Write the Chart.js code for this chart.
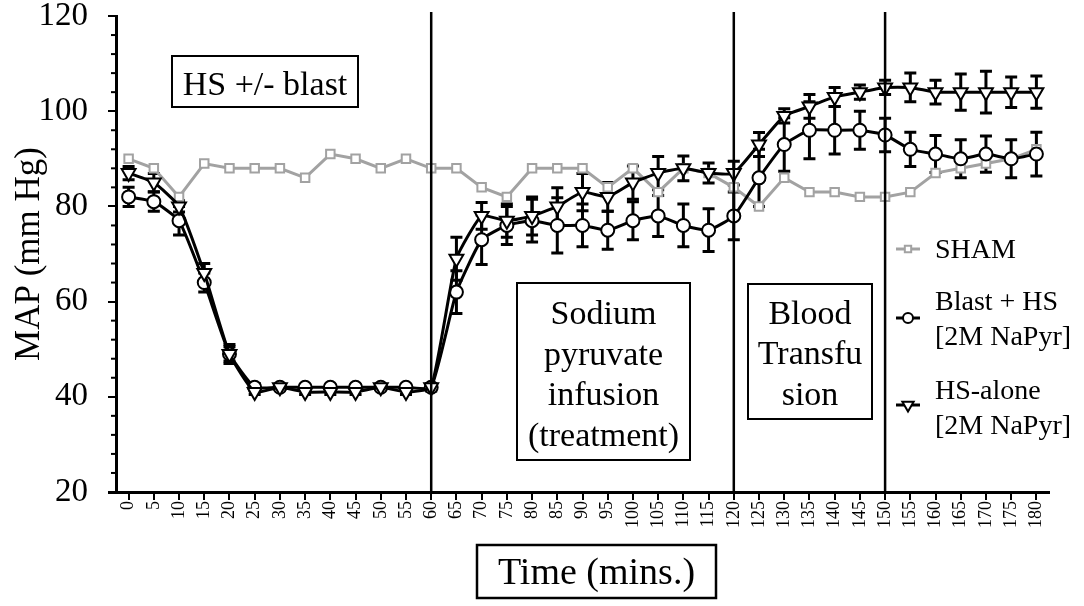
<!DOCTYPE html>
<html>
<head>
<meta charset="utf-8">
<script src="https://cdn.jsdelivr.net/npm/chart.js@4.4.1/dist/chart.umd.min.js"></script>
<style>
html,body{margin:0;padding:0;background:#fff;}
#wrap{width:1084px;height:606px;position:relative;}
</style>
</head>
<body>
<div id="wrap"><canvas id="c" width="1084" height="606"></canvas></div>
<script>
// ---- data ----
const timeLabels = ['0','5','10','15','20','25','30','35','40','45','50','55','60','65','70','75','80','85','90','95','100','105','110','115','120','125','130','135','140','145','150','155','160','165','170','175','180'];
const shamMAP    = [90,88,82,89,88,88,88,86,91,90,88,90,88, 88,84,82,88,88,88,84,88,83,88,87,84, 80,86,83,83,82,82,83,87,88,89,90,92];
const blastMAP   = [82,81,77,64,49,42,42,42,42,42,42,42,42, 62,73,76,77,76,76,75,77,78,76,75,78, 86,93,96,96,96,95,92,91,90,91,90,91];
const blastSEM   = [2,2,3,2,2,0.8,0.5,0.5,0.5,0.5,0.5,0.5,0.8, 4.5,5.2,4,4.5,5.8,4.5,4,4,4.3,4.5,4.5,5, 6,5.6,6,5,4,3.5,3.6,3.9,4,3.8,4,4.6];
const hsAloneMAP = [87,85,80,66,49,41,42,41,41,41,42,41,42, 69,78,77,78,80,83,82,85,87,88,87,87, 93,99,101,103,104,105,105,104,104,104,104,104];
const hsAloneSEM = [1.4,1.9,1.2,2,1.5,0.5,0.5,0.5,0.5,0.5,0.5,0.5,0.5, 4.5,2.8,3.5,4,3.9,3.9,3,3.5,3.5,2.6,2.1,2.5, 2.5,1.5,2.5,2,1.5,1.5,3,2.5,3.8,4.4,3.2,3.4];
const yTickValues = [20,40,60,80,100,120];
const phaseLines = ['60','120','150'];
const seriesNames = ['SHAM', 'Blast + HS [2M NaPyr]', 'HS-alone [2M NaPyr]'];

const SERIF = '"Liberation Serif", "Times New Roman", serif';
const GRAY = '#a2a2a2';

const errorBarPlugin = {
  id: 'errorBars',
  beforeDatasetsDraw(chart) {
    const {ctx} = chart;
    const y = chart.scales.y;
    chart.data.datasets.forEach((ds, di) => {
      if (!ds.errorBars) return;
      const meta = chart.getDatasetMeta(di);
      ctx.save();
      ctx.strokeStyle = ds.borderColor;
      ctx.lineWidth = 3;
      meta.data.forEach((pt, i) => {
        const v = ds.data[i], e = ds.errorBars[i];
        if (!e) return;
        const yt = y.getPixelForValue(v + e), yb = y.getPixelForValue(v - e);
        const x = pt.x;
        ctx.beginPath();
        ctx.moveTo(x, yt); ctx.lineTo(x, yb);
        ctx.moveTo(x - 6, yt); ctx.lineTo(x + 6, yt);
        ctx.moveTo(x - 6, yb); ctx.lineTo(x + 6, yb);
        ctx.stroke();
      });
      ctx.restore();
    });
  }
};

function multiText(ctx, lines, cx, firstBaseline, step) {
  lines.forEach((t, i) => ctx.fillText(t, cx, firstBaseline + i * step));
}

const decorPlugin = {
  id: 'decor',
  afterDatasetsDraw(chart) {
    const {ctx, chartArea} = chart;
    const x = chart.scales.x;
    ctx.save();
    ctx.strokeStyle = '#000';
    ctx.lineWidth = 2.5;
    phaseLines.forEach(lbl => {
      const px = x.getPixelForValue(timeLabels.indexOf(lbl));
      ctx.beginPath();
      ctx.moveTo(px, chartArea.top - 4);
      ctx.lineTo(px, chartArea.bottom);
      ctx.stroke();
    });
    ctx.restore();
  },
  afterDraw(chart) {
    const {ctx, chartArea} = chart;
    const y = chart.scales.y;
    ctx.save();
    // x axis line continues a little left of the y axis
    ctx.strokeStyle = '#000';
    ctx.lineWidth = 3;
    ctx.beginPath();
    ctx.moveTo(chartArea.left - 8, chartArea.bottom + 0.5);
    ctx.lineTo(chartArea.left, chartArea.bottom + 0.5);
    ctx.stroke();
    // minor y ticks
    ctx.lineWidth = 2;
    for (let v = y.min; v <= y.max; v += 4) {
      if (v % 20 === 0) continue;
      const py = y.getPixelForValue(v);
      ctx.beginPath();
      ctx.moveTo(chartArea.left - 5, py);
      ctx.lineTo(chartArea.left, py);
      ctx.stroke();
    }
    // annotation boxes
    ctx.fillStyle = '#000';
    ctx.strokeStyle = '#000';
    ctx.lineWidth = 2;
    ctx.textAlign = 'center';
    ctx.textBaseline = 'alphabetic';
    ctx.font = '34px ' + SERIF;
    ctx.strokeRect(172, 56, 186, 51);
    ctx.fillText('HS +/- blast', 265, 95);
    ctx.strokeRect(517, 283, 173, 177);
    multiText(ctx, ['Sodium', 'pyruvate', 'infusion', '(treatment)'], 603.5, 324, 40.5);
    ctx.strokeRect(748, 284, 124, 135);
    multiText(ctx, ['Blood', 'Transfu', 'sion'], 810, 323.5, 40.5);
    // x-axis title in a box
    ctx.lineWidth = 2.5;
    ctx.strokeRect(477, 545, 239, 53);
    ctx.font = '38px ' + SERIF;
    ctx.fillText('Time (mins.)', 596.5, 584);
    // legend
    const ds = chart.data.datasets;
    ctx.textAlign = 'left';
    ctx.font = '28px ' + SERIF;
    const items = [
      {ds: ds[0], my: 249, lines: ['SHAM'], base: 258},
      {ds: ds[1], my: 318, lines: ['Blast + HS', '[2M NaPyr]'], base: 310},
      {ds: ds[2], my: 405, lines: ['HS-alone', '[2M NaPyr]'], base: 399}
    ];
    items.forEach(it => {
      ctx.save();
      ctx.strokeStyle = it.ds.borderColor;
      ctx.lineWidth = it.ds.borderWidth;
      ctx.beginPath();
      ctx.moveTo(896, it.my); ctx.lineTo(920, it.my);
      ctx.stroke();
      ctx.fillStyle = '#fff';
      ctx.strokeStyle = it.ds.pointBorderColor;
      ctx.lineWidth = it.ds.pointBorderWidth;
      Chart.helpers.drawPoint(ctx, {
        pointStyle: it.ds.pointStyle,
        radius: it.ds.pointRadius - 1.5,
        rotation: it.ds.pointRotation || 0,
        borderWidth: it.ds.pointBorderWidth
      }, 908, it.my);
      ctx.restore();
      ctx.fillStyle = '#000';
      multiText(ctx, it.lines, 935, it.base, 35);
    });
    ctx.restore();
  }
};

new Chart(document.getElementById('c'), {
  type: 'line',
  data: {
    labels: timeLabels,
    datasets: [
      {
        label: seriesNames[0], data: shamMAP, order: 3,
        borderColor: GRAY, borderWidth: 3, tension: 0,
        pointStyle: 'rect', pointRadius: 6, pointBorderWidth: 2,
        pointBackgroundColor: '#fff', pointBorderColor: GRAY
      },
      {
        label: seriesNames[1], data: blastMAP, errorBars: blastSEM, order: 2,
        borderColor: '#000', borderWidth: 3, tension: 0.15,
        pointStyle: 'circle', pointRadius: 6.5, pointBorderWidth: 2,
        pointBackgroundColor: '#fff', pointBorderColor: '#000'
      },
      {
        label: seriesNames[2], data: hsAloneMAP, errorBars: hsAloneSEM, order: 1,
        borderColor: '#000', borderWidth: 3, tension: 0.15,
        pointStyle: 'triangle', pointRotation: 180, pointRadius: 8, pointBorderWidth: 2,
        pointBackgroundColor: '#fff', pointBorderColor: '#000'
      }
    ]
  },
  options: {
    responsive: false,
    animation: false,
    layout: {padding: {top: 16, right: 35, left: 0, bottom: 0}},
    plugins: {legend: {display: false}, tooltip: {enabled: false}},
    scales: {
      x: {
        type: 'category',
        offset: true,
        grid: {display: true, drawOnChartArea: false, drawTicks: true, tickLength: 8, color: '#000', lineWidth: 2},
        border: {display: true, color: '#000', width: 3},
        ticks: {color: '#000', font: {family: SERIF, size: 18}, minRotation: 90, maxRotation: 90, autoSkip: false, padding: 1},
        afterFit(s) { s.height = 114; s.paddingLeft = 0; s.paddingRight = 0; }
      },
      y: {
        min: 20, max: 120,
        afterBuildTicks(s) { s.ticks = yTickValues.map(v => ({value: v})); },
        grid: {display: true, drawOnChartArea: false, drawTicks: true, tickLength: 8, color: '#000', lineWidth: 2},
        border: {display: true, color: '#000', width: 3},
        ticks: {color: '#000', font: {family: SERIF, size: 33}, padding: 20},
        title: {display: true, text: 'MAP (mm Hg)', color: '#000', font: {family: SERIF, size: 35}, padding: {top: 9, bottom: 0}},
        afterFit(s) { s.width = 116; s.paddingTop = 0; s.paddingBottom = 0; }
      }
    }
  },
  plugins: [errorBarPlugin, decorPlugin]
});
</script>
</body>
</html>
